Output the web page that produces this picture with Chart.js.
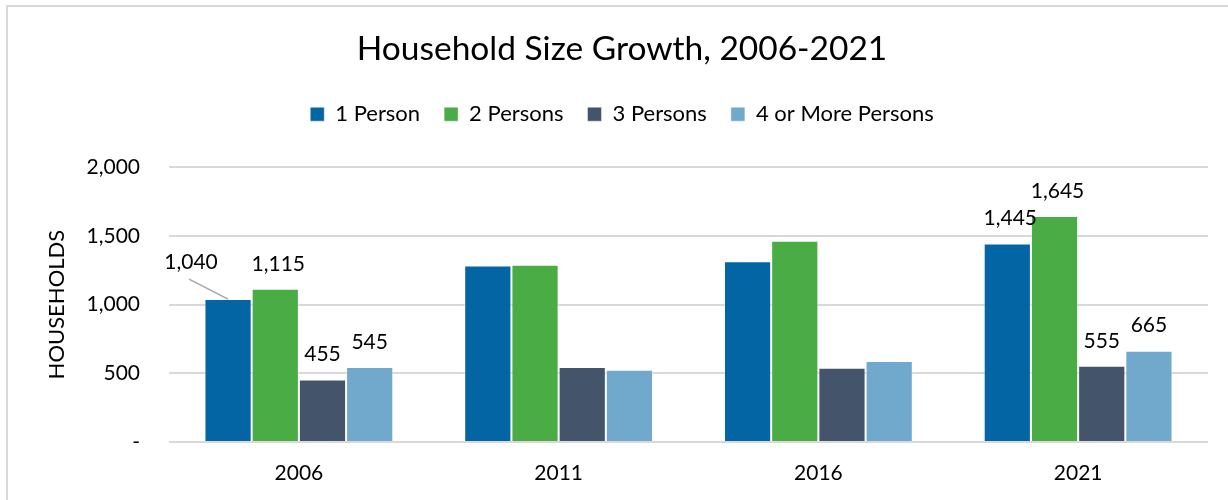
<!DOCTYPE html>
<html>
<head>
<meta charset="utf-8">
<script src="https://cdn.jsdelivr.net/npm/chart.js@4/dist/chart.umd.min.js"></script>
<style>
  html, body { margin: 0; padding: 0; background: #fff; }
  #wrap { width: 1228px; height: 500px; }
</style>
</head>
<body>
<div id="wrap"><canvas id="myChart" width="1228" height="500"></canvas></div>
<script>
// chart data
const years = ['2006', '2011', '2016', '2021'];
const onePerson = [1040, 1285, 1315, 1445];
const twoPersons = [1115, 1290, 1465, 1645];
const threePersons = [455, 545, 540, 555];
const fourPlus = [545, 525, 590, 665];
const seriesNames = ['1 Person', '2 Persons', '3 Persons', '4 or More Persons'];
const seriesColors = ['#0465A4', '#4AAC45', '#44546A', '#71A9CD'];
// which years get value labels
const labelledYears = ['2006', '2021'];

const FONT = 'Lato';

// value labels above the bars (1,040 is pulled off to the left with a leader line)
const valueLabels = {
    id: 'valueLabels',
    afterDatasetsDraw(chart) {
        const ctx = chart.ctx;
        ctx.save();
        ctx.font = '21px ' + FONT;
        ctx.fillStyle = '#000';
        ctx.textAlign = 'center';
        ctx.textBaseline = 'middle';
        chart.data.datasets.forEach((ds, di) => {
            const meta = chart.getDatasetMeta(di);
            meta.data.forEach((bar, i) => {
                if (!labelledYears.includes(chart.data.labels[i])) return;
                const txt = ds.data[i].toLocaleString('en-US');
                if (di === 0 && i === 0) {
                    const lx = bar.x - 37, ly = bar.y - 37;
                    ctx.strokeStyle = '#a6a6a6';
                    ctx.lineWidth = 1.5;
                    ctx.beginPath();
                    ctx.moveTo(lx - 2, ly + 17);
                    ctx.lineTo(bar.x, bar.y);
                    ctx.stroke();
                    ctx.fillText(txt, lx, ly);
                } else {
                    ctx.fillText(txt, bar.x + (txt.length > 3 ? 3 : 0), bar.y - 25);
                }
            });
        });
        ctx.restore();
    }
};

// white background and the thin frame round the chart
const frame = {
    id: 'frame',
    beforeDraw(chart) {
        const ctx = chart.ctx;
        ctx.save();
        ctx.fillStyle = '#fff';
        ctx.fillRect(0, 0, chart.width, chart.height);
        ctx.strokeStyle = '#d9d9d9';
        ctx.lineWidth = 2;
        ctx.strokeRect(7, 6, chart.width + 20, chart.height + 20);
        ctx.restore();
    }
};

const allData = [onePerson, twoPersons, threePersons, fourPlus];

new Chart(document.getElementById('myChart').getContext('2d'), {
    type: 'bar',
    data: {
        labels: years,
        datasets: allData.map((d, k) => ({
            label: seriesNames[k],
            data: d,
            backgroundColor: seriesColors[k],
            borderColor: 'rgba(255,255,255,0.45)',
            borderWidth: 1,
            barPercentage: 1,
            categoryPercentage: 0.727
        }))
    },
    options: {
        responsive: false,
        animation: false,
        devicePixelRatio: 1,
        layout: { padding: { left: 36, right: 20, top: 0, bottom: 0 } },
        plugins: {
            title: {
                display: true,
                text: 'Household Size Growth, 2006-2021',
                color: '#000',
                font: { family: FONT, size: 33.5, weight: 'normal', lineHeight: 1.2 },
                padding: { top: 29, bottom: 10 }
            },
            legend: {
                position: 'top',
                labels: {
                    color: '#000',
                    font: { family: FONT, size: 22 },
                    boxWidth: 14,
                    boxHeight: 14,
                    padding: 24
                }
            },
            // empty spacer between legend and plot
            subtitle: {
                display: true,
                text: '',
                weight: 500,
                font: { size: 1, lineHeight: 1 },
                padding: { top: 0, bottom: 31 }
            },
            tooltip: { enabled: false }
        },
        scales: {
            x: {
                grid: { display: false },
                border: { display: false },
                ticks: { color: '#000', font: { family: FONT, size: 21 }, padding: 11 },
                afterFit(scale) { scale.height = 58; }
            },
            y: {
                min: 0,
                max: 2000,
                ticks: {
                    stepSize: 500,
                    color: '#000',
                    font: { family: FONT, size: 21 },
                    padding: 29,
                    callback: v => v === 0 ? '-' : v.toLocaleString('en-US')
                },
                grid: { color: '#d9d9d9', lineWidth: 2, drawTicks: false },
                border: { display: false },
                title: {
                    display: true,
                    text: 'HOUSEHOLDS',
                    color: '#000',
                    font: { family: FONT, size: 22 },
                    padding: { top: 8 }
                },
                afterFit(scale) { scale.width = 133; }
            }
        }
    },
    plugins: [frame, valueLabels]
});
</script>
</body>
</html>
